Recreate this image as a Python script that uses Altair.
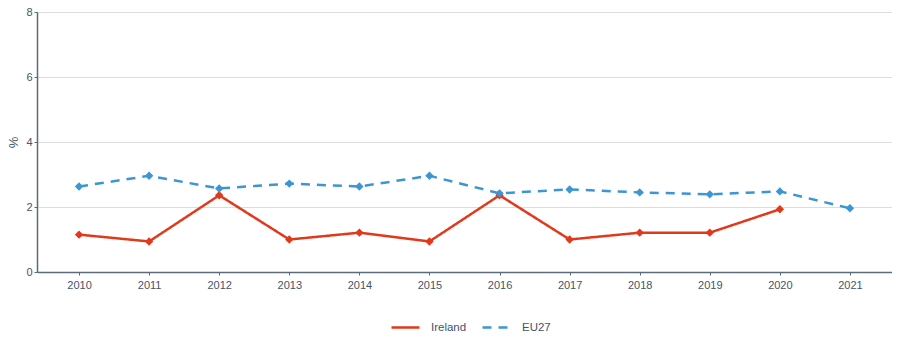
import altair as alt
import pandas as pd

years = [str(y) for y in range(2010, 2022)]
ireland = [1.15, 0.94, 2.36, 1.0, 1.21, 0.94, 2.36, 1.0, 1.21, 1.21, 1.93, None]
eu27 = [2.63, 2.96, 2.57, 2.72, 2.63, 2.96, 2.42, 2.54, 2.45, 2.39, 2.48, 1.96]
series = ["Ireland", "EU27"]
colors = ["#e2381b", "#3d96d4"]

rows = []
for name, vals in zip(series, [ireland, eu27]):
    for y, v in zip(years, vals):
        if v is not None:
            rows.append({"year": y, "value": v, "series": name})
df = pd.DataFrame(rows)

font = "Liberation Sans"
label_color = "#44546a"

x = alt.X("year:O", title=None, scale=alt.Scale(type="point", padding=0.6),
          axis=alt.Axis(labelAngle=0, labelFontSize=11, labelColor=label_color,
                        domainColor="#5b6b7a", domainWidth=1.5, tickColor="#5b6b7a",
                        tickSize=3, grid=False, labelPadding=4))
y = alt.Y("value:Q", title="%", scale=alt.Scale(domain=[0, 8]),
          axis=alt.Axis(values=[0, 2, 4, 6, 8], labelFontSize=11, labelColor=label_color,
                        domainColor="#5b6b7a", domainWidth=1.5, tickSize=3, tickColor="#5b6b7a",
                        gridColor="#dddddd", titleFontSize=13, titleColor=label_color,
                        titleFontWeight="normal", titlePadding=5))

leg = alt.Legend(title=None, orient="none", legendX=353, legendY=300, direction="horizontal",
                 symbolType="stroke", symbolSize=784, symbolStrokeWidth=2.5,
                 labelFontSize=11.5, labelColor=label_color, labelOffset=10, columnPadding=10)
color = alt.Color("series:N", scale=alt.Scale(domain=series, range=colors), legend=leg)
dash = alt.StrokeDash("series:N", scale=alt.Scale(domain=series, range=[[1, 0], [9, 7]]),
                      legend=leg)

lines = alt.Chart(df).mark_line(strokeWidth=2.5).encode(x=x, y=y, color=color, strokeDash=dash)
points = alt.Chart(df).mark_point(shape="diamond", filled=True, size=70, opacity=1).encode(
    x=x, y=y, color=alt.Color("series:N", scale=alt.Scale(domain=series, range=colors), legend=None))

chart = (lines + points).properties(
    width=855, height=260,
    padding={"left": 29, "top": 4, "right": 0, "bottom": 80},
    autosize=alt.AutoSizeParams(type="none"),
).configure_view(stroke=None).configure(font=font)

chart.save("out.html", embed_options={"renderer": "svg", "actions": False})
